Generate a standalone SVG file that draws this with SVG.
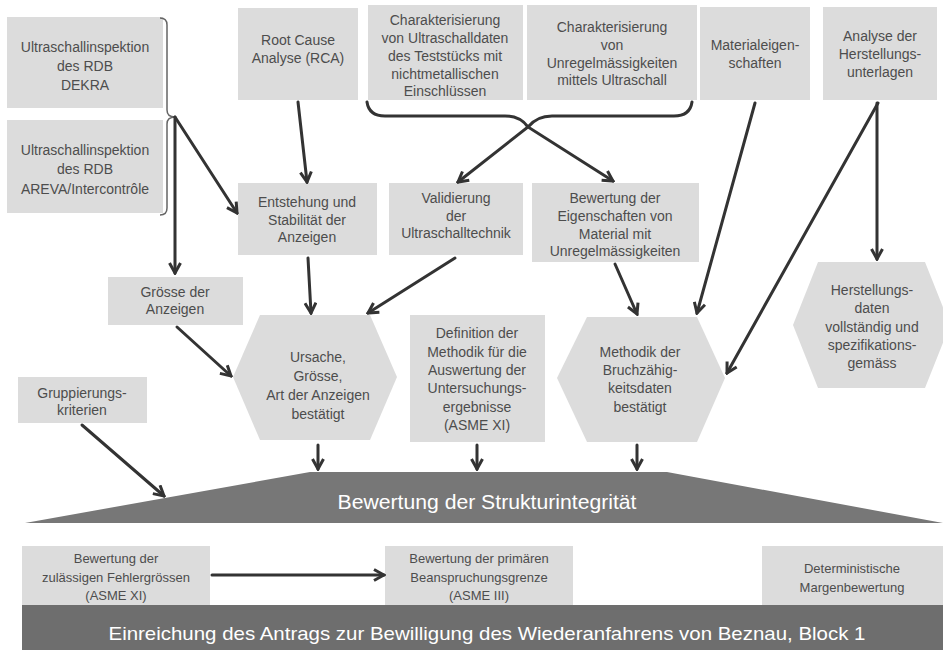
<svg xmlns="http://www.w3.org/2000/svg" width="943" height="650" viewBox="0 0 943 650">
<defs>
<style>
.box{fill:#dcdcdc;}
.t{font-family:"Liberation Sans",Arial,sans-serif;font-size:14px;fill:#4d4d4d;text-anchor:middle;}
.tb{font-family:"Liberation Sans",Arial,sans-serif;font-size:13px;fill:#4d4d4d;text-anchor:middle;}
.w{font-family:"Liberation Sans",Arial,sans-serif;fill:#ffffff;text-anchor:middle;}
.c{fill:none;stroke:#333333;stroke-width:3;stroke-linecap:round;}
.br{fill:none;stroke:#666666;stroke-width:1.5;}
</style>
<marker id="ah" viewBox="0 0 14 14" refX="12" refY="7" markerWidth="14" markerHeight="14" markerUnits="userSpaceOnUse" orient="auto">
<path d="M2,1.5 L12,7 L2,12.5" fill="none" stroke="#333333" stroke-width="3" stroke-linejoin="miter"/>
</marker>
</defs>
<rect width="943" height="650" fill="#ffffff"/>

<g id="n-dekra">
<rect class="box" x="7" y="17" width="156" height="91"/>
<text class="t" x="85" y="52">Ultraschallinspektion</text>
<text class="t" x="85" y="71">des RDB</text>
<text class="t" x="85" y="90">DEKRA</text>
</g>
<g id="n-areva">
<rect class="box" x="7" y="120" width="156" height="93"/>
<text class="t" x="85" y="155">Ultraschallinspektion</text>
<text class="t" x="85" y="174">des RDB</text>
<text class="t" x="85" y="194">AREVA/Intercontrôle</text>
</g>
<g id="n-rca">
<rect class="box" x="238" y="8" width="120" height="92"/>
<text class="t" x="298" y="45">Root Cause</text>
<text class="t" x="298" y="63">Analyse (RCA)</text>
</g>
<g id="n-char1">
<rect class="box" x="368" y="5" width="155" height="95"/>
<text class="t" x="445" y="25">Charakterisierung</text>
<text class="t" x="445" y="43">von Ultraschalldaten</text>
<text class="t" x="445" y="61">des Teststücks mit</text>
<text class="t" x="445" y="79">nichtmetallischen</text>
<text class="t" x="445" y="96">Einschlüssen</text>
</g>
<g id="n-char2">
<rect class="box" x="527" y="5" width="170" height="95"/>
<text class="t" x="612" y="32">Charakterisierung</text>
<text class="t" x="612" y="50">von</text>
<text class="t" x="612" y="68">Unregelmässigkeiten</text>
<text class="t" x="612" y="85">mittels Ultraschall</text>
</g>
<g id="n-material">
<rect class="box" x="700" y="7" width="110" height="93"/>
<text class="t" x="755" y="50">Materialeigen-</text>
<text class="t" x="755" y="68">schaften</text>
</g>
<g id="n-analyse">
<rect class="box" x="823" y="7" width="114" height="93"/>
<text class="t" x="880" y="41">Analyse der</text>
<text class="t" x="880" y="59">Herstellungs-</text>
<text class="t" x="880" y="77">unterlagen</text>
</g>

<g id="n-entstehung">
<rect class="box" x="238" y="183" width="139" height="72"/>
<text class="t" x="307" y="207">Entstehung und</text>
<text class="t" x="307" y="225">Stabilität der</text>
<text class="t" x="307" y="242">Anzeigen</text>
</g>
<g id="n-validierung">
<rect class="box" x="389" y="183" width="134" height="72"/>
<text class="t" x="456" y="203">Validierung</text>
<text class="t" x="456" y="221">der</text>
<text class="t" x="456" y="238">Ultraschalltechnik</text>
</g>
<g id="n-bewertung-eig">
<rect class="box" x="532" y="183" width="167" height="79"/>
<text class="t" x="615" y="203">Bewertung der</text>
<text class="t" x="615" y="221">Eigenschaften von</text>
<text class="t" x="615" y="239">Material mit</text>
<text class="t" x="615" y="256">Unregelmässigkeiten</text>
</g>
<g id="n-groesse">
<rect class="box" x="108" y="277" width="135" height="48"/>
<text class="t" x="175" y="297">Grösse der</text>
<text class="t" x="175" y="314">Anzeigen</text>
</g>
<g id="n-ursache">
<polygon class="box" points="260,315 370,315 397,377 370,440 260,440 233,377"/>
<text class="t" x="318" y="362">Ursache,</text>
<text class="t" x="318" y="381">Grösse,</text>
<text class="t" x="318" y="400">Art der Anzeigen</text>
<text class="t" x="318" y="419">bestätigt</text>
</g>
<g id="n-definition">
<rect class="box" x="410" y="315" width="135" height="127"/>
<text class="t" x="477" y="338">Definition der</text>
<text class="t" x="477" y="357">Methodik für die</text>
<text class="t" x="477" y="375">Auswertung der</text>
<text class="t" x="477" y="393">Untersuchungs-</text>
<text class="t" x="477" y="412">ergebnisse</text>
<text class="t" x="477" y="430">(ASME XI)</text>
</g>
<g id="n-methodik">
<polygon class="box" points="587,317 697,317 725,378 697,442 587,442 557,378"/>
<text class="t" x="640" y="357">Methodik der</text>
<text class="t" x="640" y="375">Bruchzähig-</text>
<text class="t" x="640" y="393">keitsdaten</text>
<text class="t" x="640" y="412">bestätigt</text>
</g>
<g id="n-herstellung">
<polygon class="box" points="818,262 925,262 950,325 925,388 818,388 793,325"/>
<text class="t" x="872" y="295">Herstellungs-</text>
<text class="t" x="872" y="313">daten</text>
<text class="t" x="872" y="332">vollständig und</text>
<text class="t" x="872" y="350">spezifikations-</text>
<text class="t" x="872" y="368">gemäss</text>
</g>
<g id="n-gruppierung">
<rect class="box" x="18" y="377" width="129" height="46"/>
<text class="t" x="82" y="398">Gruppierungs-</text>
<text class="t" x="82" y="415">kriterien</text>
</g>

<g id="n-struktur">
<polygon points="310,472 667,472 943,523 25,523" fill="#777777"/>
<text class="w" x="487" y="509" font-size="20" textLength="299" lengthAdjust="spacingAndGlyphs">Bewertung  der Strukturintegrität</text>
</g>

<g id="n-fehler">
<rect class="box" x="22" y="546" width="188" height="59"/>
<text class="tb" x="116" y="563">Bewertung der</text>
<text class="tb" x="116" y="582">zulässigen Fehlergrössen</text>
<text class="tb" x="116" y="600">(ASME XI)</text>
</g>
<g id="n-primaer">
<rect class="box" x="385" y="546" width="188" height="59"/>
<text class="tb" x="479" y="563">Bewertung der primären</text>
<text class="tb" x="479" y="582">Beanspruchungsgrenze</text>
<text class="tb" x="479" y="600">(ASME III)</text>
</g>
<g id="n-determ">
<rect class="box" x="762" y="546" width="181" height="59"/>
<text class="tb" x="852" y="573">Deterministische</text>
<text class="tb" x="852" y="592">Margenbewertung</text>
</g>
<g id="n-einreichung">
<rect x="22" y="605" width="921" height="45" fill="#6e6e6e"/>
<text class="w" x="487" y="640" font-size="19" textLength="757" lengthAdjust="spacingAndGlyphs">Einreichung des Antrags zur Bewilligung des Wiederanfahrens von Beznau, Block 1</text>
</g>

<g id="connectors">
<path class="br" d="M160,18 Q167,18 167,25 L167,110 Q167,117 175,117 Q167,117 167,124 L167,208 Q167,215 160,215"/>
<path class="c" d="M175,117 L175,273" marker-end="url(#ah)"/>
<path class="c" d="M175,117 L237,213" marker-end="url(#ah)"/>
<path class="c" d="M298,102 L307,182" marker-end="url(#ah)"/>
<path class="c" d="M367,102 Q369,116 385,116 L505,116 Q520,116 528,127 L613,181" marker-end="url(#ah)"/>
<path class="c" d="M692,102 Q690,116 674,116 L552,116 Q537,116 528,127 L458,182" marker-end="url(#ah)"/>
<path class="c" d="M308,258 L311,313" marker-end="url(#ah)"/>
<path class="c" d="M455,258 L368,313" marker-end="url(#ah)"/>
<path class="c" d="M177,327 L231,376" marker-end="url(#ah)"/>
<path class="c" d="M615,264 L637,314" marker-end="url(#ah)"/>
<path class="c" d="M755,103 L697,313" marker-end="url(#ah)"/>
<path class="c" d="M878,103 L727,373" marker-end="url(#ah)"/>
<path class="c" d="M877,103 L877,259" marker-end="url(#ah)"/>
<path class="c" d="M82,425 L164,496" marker-end="url(#ah)"/>
<path class="c" d="M318,445 L318,469" marker-end="url(#ah)"/>
<path class="c" d="M477,445 L477,469" marker-end="url(#ah)"/>
<path class="c" d="M637,445 L637,469" marker-end="url(#ah)"/>
<path class="c" d="M212,575 L384,575" marker-end="url(#ah)"/>
</g>
</svg>
